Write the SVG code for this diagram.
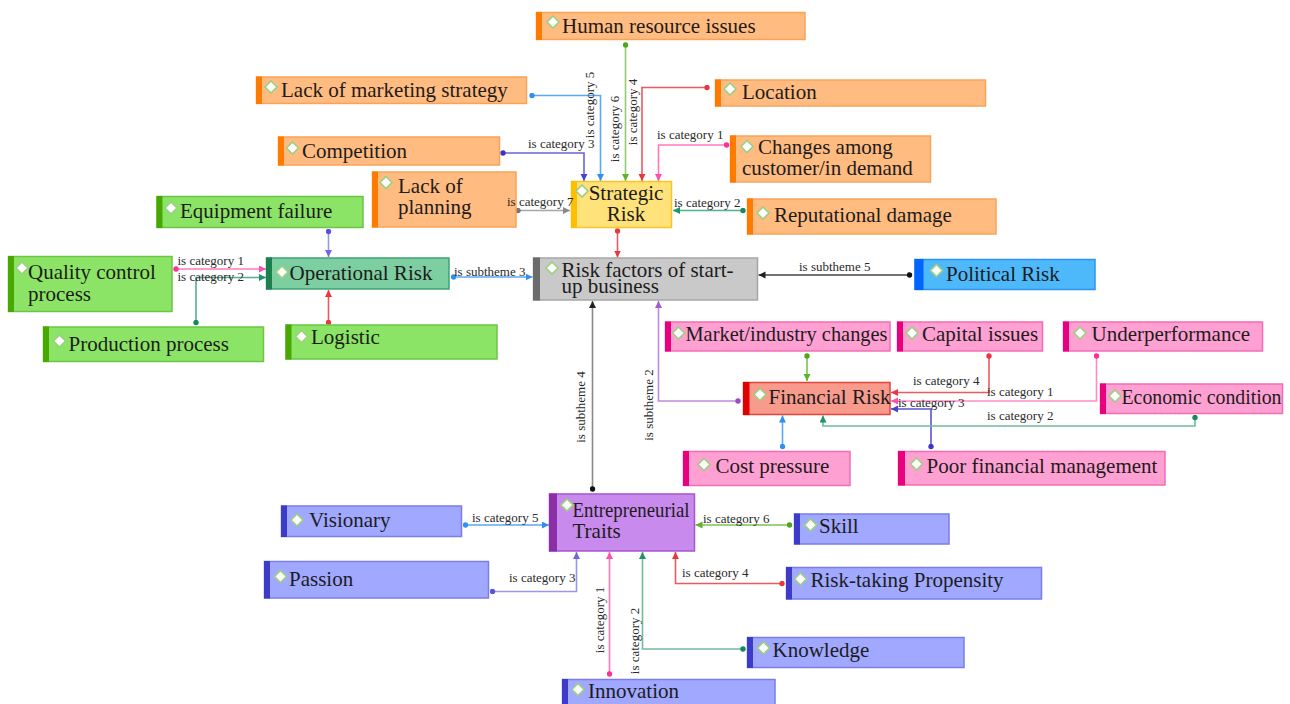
<svg xmlns="http://www.w3.org/2000/svg" xmlns:xlink="http://www.w3.org/1999/xlink" width="1290" height="704" viewBox="0 0 1290 704">
<style>
.node text{font-family:"Liberation Serif","Times New Roman",serif;font-size:21px;fill:#1c1c1c}
.b{stroke-width:1.5}
.dia{fill:#fff;stroke:#9ccf80;stroke-width:1.6}
.o .b{fill:#FFBB80;stroke:#F8A458}.o .bar{fill:#FF7A00}
.y .b{fill:#FFE27A;stroke:#F6C52A}.y .bar{fill:#FFBE00}
.g .b{fill:#8CE466;stroke:#6BC646}.g .bar{fill:#46A800}
.t .b{fill:#7DCEA0;stroke:#3FA274}.t .bar{fill:#1B7F50}
.k .b{fill:#C9C9C9;stroke:#A6A6A6}.k .bar{fill:#6B6B6B}
.s .b{fill:#4DB8FA;stroke:#2C92F2}.s .bar{fill:#0064FF}
.p .b{fill:#FFA0D2;stroke:#F46CB6}.p .bar{fill:#E8007F}
.r .b{fill:#F89B8D;stroke:#E2443E}.r .bar{fill:#E00000}
.v .b{fill:#C98AEE;stroke:#A656CC}.v .bar{fill:#8A2FA8}
.u .b{fill:#A0A8FF;stroke:#7C7CE8}.u .bar{fill:#3C3CC8}
#edges path{fill:none;stroke-width:1.6}
#labels text{font-family:"Liberation Serif","Times New Roman",serif;font-size:13px;fill:#2a2a2a}
</style>
<defs>
<path id="dia" class="dia" d="M0,-6 L6,0 L0,6 L-6,0Z"/>
<marker id="a-red" markerUnits="userSpaceOnUse" markerWidth="8" markerHeight="8" refX="7" refY="3.5" orient="auto"><path d="M0,0L7,3.5L0,7Z" fill="#E8383D"/></marker>
<marker id="a-pink" markerUnits="userSpaceOnUse" markerWidth="8" markerHeight="8" refX="7" refY="3.5" orient="auto"><path d="M0,0L7,3.5L0,7Z" fill="#FF4FA8"/></marker>
<marker id="a-blue" markerUnits="userSpaceOnUse" markerWidth="8" markerHeight="8" refX="7" refY="3.5" orient="auto"><path d="M0,0L7,3.5L0,7Z" fill="#2F8FF5"/></marker>
<marker id="a-green" markerUnits="userSpaceOnUse" markerWidth="8" markerHeight="8" refX="7" refY="3.5" orient="auto"><path d="M0,0L7,3.5L0,7Z" fill="#5DB32C"/></marker>
<marker id="a-indigo" markerUnits="userSpaceOnUse" markerWidth="8" markerHeight="8" refX="7" refY="3.5" orient="auto"><path d="M0,0L7,3.5L0,7Z" fill="#4A42D0"/></marker>
<marker id="a-lav" markerUnits="userSpaceOnUse" markerWidth="8" markerHeight="8" refX="7" refY="3.5" orient="auto"><path d="M0,0L7,3.5L0,7Z" fill="#6E68E0"/></marker>
<marker id="a-teal" markerUnits="userSpaceOnUse" markerWidth="8" markerHeight="8" refX="7" refY="3.5" orient="auto"><path d="M0,0L7,3.5L0,7Z" fill="#1F9466"/></marker>
<marker id="a-gray" markerUnits="userSpaceOnUse" markerWidth="8" markerHeight="8" refX="7" refY="3.5" orient="auto"><path d="M0,0L7,3.5L0,7Z" fill="#888"/></marker>
<marker id="a-black" markerUnits="userSpaceOnUse" markerWidth="8" markerHeight="8" refX="7" refY="3.5" orient="auto"><path d="M0,0L7,3.5L0,7Z" fill="#222"/></marker>
<marker id="a-purple" markerUnits="userSpaceOnUse" markerWidth="8" markerHeight="8" refX="7" refY="3.5" orient="auto"><path d="M0,0L7,3.5L0,7Z" fill="#A35CCB"/></marker>
<marker id="d-red" markerUnits="userSpaceOnUse" markerWidth="6" markerHeight="6" refX="3" refY="3"><circle cx="3" cy="3" r="2.7" fill="#E8383D"/></marker>
<marker id="d-pink" markerUnits="userSpaceOnUse" markerWidth="6" markerHeight="6" refX="3" refY="3"><circle cx="3" cy="3" r="2.7" fill="#FF2E98"/></marker>
<marker id="d-blue" markerUnits="userSpaceOnUse" markerWidth="6" markerHeight="6" refX="3" refY="3"><circle cx="3" cy="3" r="2.7" fill="#2F8FF5"/></marker>
<marker id="d-green" markerUnits="userSpaceOnUse" markerWidth="6" markerHeight="6" refX="3" refY="3"><circle cx="3" cy="3" r="2.7" fill="#4CA81A"/></marker>
<marker id="d-indigo" markerUnits="userSpaceOnUse" markerWidth="6" markerHeight="6" refX="3" refY="3"><circle cx="3" cy="3" r="2.7" fill="#3C34C8"/></marker>
<marker id="d-lav" markerUnits="userSpaceOnUse" markerWidth="6" markerHeight="6" refX="3" refY="3"><circle cx="3" cy="3" r="2.7" fill="#5A52D8"/></marker>
<marker id="d-teal" markerUnits="userSpaceOnUse" markerWidth="6" markerHeight="6" refX="3" refY="3"><circle cx="3" cy="3" r="2.7" fill="#138A5C"/></marker>
<marker id="d-gray" markerUnits="userSpaceOnUse" markerWidth="6" markerHeight="6" refX="3" refY="3"><circle cx="3" cy="3" r="2.7" fill="#777"/></marker>
<marker id="d-black" markerUnits="userSpaceOnUse" markerWidth="6" markerHeight="6" refX="3" refY="3"><circle cx="3" cy="3" r="2.7" fill="#111"/></marker>
<marker id="d-purple" markerUnits="userSpaceOnUse" markerWidth="6" markerHeight="6" refX="3" refY="3"><circle cx="3" cy="3" r="2.7" fill="#9A4CC4"/></marker>
</defs>
<rect width="1290" height="704" fill="#fff"/>

<g id="edges">
<path d="M503,153 H584 V181" stroke="#6A64D8" marker-start="url(#d-indigo)" marker-end="url(#a-indigo)"/>
<path d="M532,95.5 H600.5 V181" stroke="#5AA8F5" marker-start="url(#d-blue)" marker-end="url(#a-blue)"/>
<path d="M625.5,45 V181" stroke="#92CC6E" marker-start="url(#d-green)" marker-end="url(#a-green)"/>
<path d="M707,87.5 H642 V181" stroke="#EC5A5E" marker-start="url(#d-red)" marker-end="url(#a-red)"/>
<path d="M726.5,145 H658.5 V181" stroke="#FF78BE" marker-start="url(#d-pink)" marker-end="url(#a-pink)"/>
<path d="M518,210.5 H570" stroke="#A6A6A6" marker-start="url(#d-gray)" marker-end="url(#a-gray)"/>
<path d="M743,210.5 H673" stroke="#55B08A" marker-start="url(#d-teal)" marker-end="url(#a-teal)"/>
<path d="M617.5,231 V257.5" stroke="#EC5A5E" marker-start="url(#d-red)" marker-end="url(#a-red)"/>
<path d="M328.5,231.5 V257" stroke="#9A96EA" marker-start="url(#d-lav)" marker-end="url(#a-lav)"/>
<path d="M176,269 H266" stroke="#FF78BE" marker-start="url(#d-pink)" marker-end="url(#a-pink)"/>
<path d="M196,322.5 V277.5 H266" stroke="#55B08A" marker-start="url(#d-teal)" marker-end="url(#a-teal)"/>
<path d="M328.5,322.5 V290" stroke="#EC5A5E" marker-start="url(#d-red)" marker-end="url(#a-red)"/>
<path d="M453.5,277 H532.5" stroke="#5AA8F5" marker-start="url(#d-blue)" marker-end="url(#a-blue)"/>
<path d="M909.5,275 H758.5" stroke="#444" marker-start="url(#d-black)" marker-end="url(#a-black)"/>
<path d="M592.5,489 V301" stroke="#8A8A8A" marker-start="url(#d-black)" marker-end="url(#a-black)"/>
<path d="M738,401 H658.5 V301" stroke="#C08ADE" marker-start="url(#d-purple)" marker-end="url(#a-purple)"/>
<path d="M807,356 V381" stroke="#7CC250" marker-start="url(#d-green)" marker-end="url(#a-green)"/>
<path d="M989,356 V392.5 H891" stroke="#EC5A5E" marker-start="url(#d-red)" marker-end="url(#a-red)"/>
<path d="M1096.5,356 V401 H891" stroke="#FF8CC8" marker-start="url(#d-pink)" marker-end="url(#a-pink)"/>
<path d="M931,446.5 V409 H891" stroke="#5A54D8" marker-start="url(#d-indigo)" marker-end="url(#a-indigo)"/>
<path d="M1195,417.5 V426 H823 V415.5" stroke="#72BC9A" marker-start="url(#d-teal)" marker-end="url(#a-teal)"/>
<path d="M782.5,446.5 V415.5" stroke="#5AA8F5" marker-start="url(#d-blue)" marker-end="url(#a-blue)"/>
<path d="M465.5,525 H549" stroke="#5AA8F5" marker-start="url(#d-blue)" marker-end="url(#a-blue)"/>
<path d="M789.5,525 H695.5" stroke="#7CC250" marker-start="url(#d-green)" marker-end="url(#a-green)"/>
<path d="M492.5,591.5 H576.5 V552" stroke="#9A96EA" marker-start="url(#d-lav)" marker-end="url(#a-lav)"/>
<path d="M782,583.5 H675.5 V552" stroke="#EC5A5E" marker-start="url(#d-red)" marker-end="url(#a-red)"/>
<path d="M609.5,674 V552" stroke="#FF78BE" marker-start="url(#d-pink)" marker-end="url(#a-pink)"/>
<path d="M743,649 H642.5 V552" stroke="#72BC9A" marker-start="url(#d-teal)" marker-end="url(#a-teal)"/>
</g>

<g id="n-hr" class="node o"><rect class="b" x="536.5" y="12.5" width="268.5" height="27"/><rect class="bar" x="536" y="12" width="6" height="28"/><use href="#dia" x="553" y="22"/><text x="562" y="32.5">Human resource issues</text></g>
<g id="n-lms" class="node o"><rect class="b" x="256.5" y="77" width="270" height="26.5"/><rect class="bar" x="256" y="76.5" width="6" height="27.5"/><use href="#dia" x="271" y="87"/><text x="281" y="96.5">Lack of marketing strategy</text></g>
<g id="n-loc" class="node o"><rect class="b" x="715.5" y="80" width="270" height="26"/><rect class="bar" x="715" y="79.5" width="6" height="27"/><use href="#dia" x="730" y="89"/><text x="742" y="99">Location</text></g>
<g id="n-comp" class="node o"><rect class="b" x="278.5" y="137" width="221" height="28"/><rect class="bar" x="278" y="136.5" width="6" height="29"/><use href="#dia" x="292.5" y="148"/><text x="302" y="157.5">Competition</text></g>
<g id="n-chg" class="node o"><rect class="b" x="730.5" y="136" width="200" height="46"/><rect class="bar" x="730" y="135.5" width="6" height="47"/><use href="#dia" x="747" y="146.5"/><text x="758" y="154">Changes among</text><text x="742" y="174.5">customer/in demand</text></g>
<g id="n-lop" class="node o"><rect class="b" x="372.5" y="172" width="143.5" height="55"/><rect class="bar" x="372" y="171.5" width="6" height="56"/><use href="#dia" x="386" y="182.5"/><text x="398" y="193">Lack of</text><text x="398" y="214">planning</text></g>
<g id="n-str" class="node y"><rect class="b" x="571.5" y="181.5" width="100" height="46"/><rect class="bar" x="571" y="181" width="6" height="47"/><use href="#dia" x="582" y="191"/><text x="626" y="199.5" text-anchor="middle">Strategic</text><text x="626" y="220.5" text-anchor="middle">Risk</text></g>
<g id="n-rep" class="node o"><rect class="b" x="747.5" y="199" width="248.5" height="35"/><rect class="bar" x="747" y="198.5" width="6" height="36"/><use href="#dia" x="763" y="213"/><text x="774" y="221.5">Reputational damage</text></g>

<g id="n-eq" class="node g"><rect class="b" x="157" y="196.5" width="206" height="31"/><rect class="bar" x="156.5" y="196" width="6" height="32"/><use href="#dia" x="171" y="208"/><text x="180" y="217.5">Equipment failure</text></g>
<g id="n-qc" class="node g"><rect class="b" x="8.5" y="256.5" width="163.5" height="55"/><rect class="bar" x="8" y="256" width="6" height="56"/><use href="#dia" x="22" y="268"/><text x="28" y="278.5">Quality control</text><text x="28" y="300.5">process</text></g>
<g id="n-op" class="node t"><rect class="b" x="266.5" y="258" width="182.5" height="31"/><rect class="bar" x="266" y="257.5" width="6" height="32"/><use href="#dia" x="282" y="272"/><text x="289.5" y="279.5">Operational Risk</text></g>
<g id="n-pp" class="node g"><rect class="b" x="43.5" y="327" width="220" height="34.5"/><rect class="bar" x="43" y="326.5" width="6" height="35.5"/><use href="#dia" x="59.5" y="341"/><text x="68.5" y="350.5">Production process</text></g>
<g id="n-lg" class="node g"><rect class="b" x="286" y="325" width="211" height="34"/><rect class="bar" x="285.5" y="324.5" width="6" height="35"/><use href="#dia" x="301.5" y="336.5"/><text x="311" y="344">Logistic</text></g>

<g id="n-rf" class="node k"><rect class="b" x="533.5" y="258" width="224" height="42"/><rect class="bar" x="533" y="257.5" width="7" height="43"/><use href="#dia" x="552" y="268"/><text x="561.5" y="276.5">Risk factors of start-</text><text x="561.5" y="293">up business</text></g>
<g id="n-pol" class="node s"><rect class="b" x="915" y="259.5" width="180" height="30"/><rect class="bar" x="914.5" y="259" width="9" height="31"/><use href="#dia" x="936.5" y="270.5"/><text x="946" y="280.5">Political Risk</text></g>

<g id="n-mk" class="node p"><rect class="b" x="665.5" y="322" width="224.5" height="29"/><rect class="bar" x="665" y="321.5" width="6" height="30"/><use href="#dia" x="678.5" y="333"/><text x="685.5" y="340.5" textLength="202" lengthAdjust="spacingAndGlyphs">Market/industry changes</text></g>
<g id="n-cap" class="node p"><rect class="b" x="897.5" y="322" width="145" height="29"/><rect class="bar" x="897" y="321.5" width="6" height="30"/><use href="#dia" x="912" y="333"/><text x="922" y="340.5">Capital issues</text></g>
<g id="n-und" class="node p"><rect class="b" x="1063.5" y="322" width="199" height="29"/><rect class="bar" x="1063" y="321.5" width="6" height="30"/><use href="#dia" x="1080" y="333"/><text x="1091.5" y="340.5">Underperformance</text></g>
<g id="n-fin" class="node r"><rect class="b" x="743.5" y="382.5" width="146.5" height="32"/><rect class="bar" x="743" y="382" width="6.5" height="33"/><use href="#dia" x="760" y="394.5"/><text x="768.5" y="403.5">Financial Risk</text></g>
<g id="n-eco" class="node p"><rect class="b" x="1100.5" y="384" width="182" height="29.5"/><rect class="bar" x="1100" y="383.5" width="6" height="30.5"/><use href="#dia" x="1115" y="396"/><text x="1121.5" y="403.5" textLength="160" lengthAdjust="spacingAndGlyphs">Economic condition</text></g>
<g id="n-cost" class="node p"><rect class="b" x="683.5" y="451.5" width="166.5" height="34"/><rect class="bar" x="683" y="451" width="6" height="35"/><use href="#dia" x="704" y="464.5"/><text x="715.5" y="472.5">Cost pressure</text></g>
<g id="n-poor" class="node p"><rect class="b" x="898.5" y="451.5" width="266.5" height="33.5"/><rect class="bar" x="898" y="451" width="7" height="34.5"/><use href="#dia" x="916.5" y="464"/><text x="926.5" y="472.5">Poor financial management</text></g>

<g id="n-ent" class="node v"><rect class="b" x="549.5" y="494" width="145" height="57"/><rect class="bar" x="549" y="493.5" width="8" height="58"/><use href="#dia" x="567" y="505"/><text x="572.5" y="517" textLength="117" lengthAdjust="spacingAndGlyphs">Entrepreneurial</text><text x="572.5" y="538">Traits</text></g>
<g id="n-vis" class="node u"><rect class="b" x="281.5" y="506" width="180" height="30.5"/><rect class="bar" x="281" y="505.5" width="6" height="31.5"/><use href="#dia" x="297" y="520"/><text x="309" y="526.5">Visionary</text></g>
<g id="n-skill" class="node u"><rect class="b" x="794.5" y="514" width="154.5" height="30"/><rect class="bar" x="794" y="513.5" width="6" height="31"/><use href="#dia" x="810.5" y="525"/><text x="819" y="532.5">Skill</text></g>
<g id="n-pas" class="node u"><rect class="b" x="264.5" y="561.5" width="224" height="36.5"/><rect class="bar" x="264" y="561" width="6" height="37.5"/><use href="#dia" x="280.5" y="576.5"/><text x="289" y="585.5">Passion</text></g>
<g id="n-rtp" class="node u"><rect class="b" x="786.5" y="567.5" width="255" height="31.5"/><rect class="bar" x="786" y="567" width="6" height="32.5"/><use href="#dia" x="800.5" y="579"/><text x="810.5" y="586.5">Risk-taking Propensity</text></g>
<g id="n-kn" class="node u"><rect class="b" x="747.5" y="637.5" width="216.5" height="30"/><rect class="bar" x="747" y="637" width="6" height="31"/><use href="#dia" x="763.5" y="648"/><text x="772.5" y="656.5">Knowledge</text></g>
<g id="n-inn" class="node u"><rect class="b" x="562.5" y="679.5" width="212.5" height="30"/><rect class="bar" x="562" y="679" width="6" height="31"/><use href="#dia" x="578" y="689.5"/><text x="588" y="698">Innovation</text></g>

<g id="labels">
<text x="528" y="148">is category 3</text>
<text transform="translate(594,105) rotate(-90)" text-anchor="middle">is category 5</text>
<text transform="translate(619,129) rotate(-90)" text-anchor="middle">is category 6</text>
<text transform="translate(637,112) rotate(-90)" text-anchor="middle">is category 4</text>
<text x="657" y="139">is category 1</text>
<text x="507" y="206">is category 7</text>
<text x="674" y="207">is category 2</text>
<text x="177.5" y="265">is category 1</text>
<text x="177.5" y="281">is category 2</text>
<text x="454" y="276">is subtheme 3</text>
<text x="799" y="271">is subtheme 5</text>
<text transform="translate(585,407) rotate(-90)" text-anchor="middle">is subtheme 4</text>
<text transform="translate(653,405) rotate(-90)" text-anchor="middle">is subtheme 2</text>
<text x="913" y="385">is category 4</text>
<text x="987" y="396">is category 1</text>
<text x="898" y="407">is category 3</text>
<text x="987" y="420">is category 2</text>
<text x="472" y="522">is category 5</text>
<text x="703" y="523">is category 6</text>
<text x="509" y="582">is category 3</text>
<text x="682" y="577">is category 4</text>
<text transform="translate(604,620) rotate(-90)" text-anchor="middle">is category 1</text>
<text transform="translate(639,641) rotate(-90)" text-anchor="middle">is category 2</text>
</g>
</svg>
